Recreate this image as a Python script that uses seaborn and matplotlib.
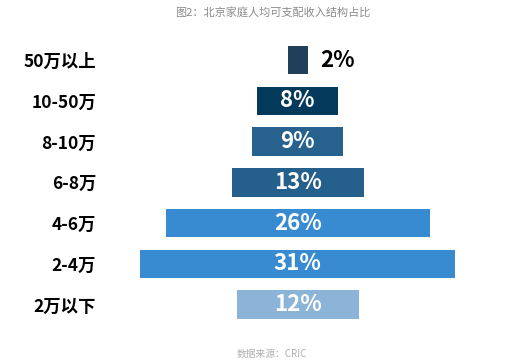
import numpy as np
import pandas as pd
import matplotlib
matplotlib.use("Agg")
import matplotlib.pyplot as plt
import seaborn as sns

# data
categories = ["50万以上", "10-50万", "8-10万", "6-8万", "4-6万", "2-4万", "2万以下"]
shares = [2, 8, 9, 13, 26, 31, 12]
bar_colors = ["#1f3f5a", "#033a5b", "#27628f", "#255f8c", "#388bd1", "#388bd1", "#8cb4d8"]
title = "图2：北京家庭人均可支配收入结构占比"
source = "数据来源：CRIC"

df = pd.DataFrame({"category": categories, "share": shares})

sns.set_style("white")
plt.rcParams["font.family"] = ["Noto Sans CJK SC", "DejaVu Sans"]

fig = plt.figure(figsize=(5.16, 3.64), dpi=100)
ax = fig.add_axes([0.213, 0.107, 0.737, 0.784])

# centered bars: each bar starts at -value/2
sns.barplot(data=df, x="share", y="category", orient="y", width=0.7,
            color=bar_colors[0], saturation=1,
            left=-df["share"].to_numpy() / 2, linewidth=0, ax=ax)
for patch, c in zip(ax.patches, bar_colors):
    patch.set_facecolor(c)
    patch.set_edgecolor(c)

ax.set_xlim(-18.47, 18.93)
ax.set_ylim(6.5, -0.5)

for i, v in enumerate(shares):
    if v < 5:
        ax.annotate(f"{v}%", xy=(v / 2, i), xytext=(9, 0), textcoords="offset points",
                    ha="left", va="center", fontsize=16, fontweight="bold", color="black")
    else:
        ax.text(0, i, f"{v}%", ha="center", va="center", fontsize=16,
                fontweight="bold", color="white")

ax.set_xlabel("")
ax.set_ylabel("")
ax.set_xticks([])
ax.tick_params(axis="y", length=0, pad=10)
for lab in ax.get_yticklabels():
    lab.set_fontweight("bold")
    lab.set_fontsize(12.5)
    lab.set_color("black")
sns.despine(ax=ax, left=True, bottom=True)

fig.text(0.528, 0.967, title, ha="center", va="center", fontsize=8, color="#8a8a8a")
fig.text(0.527, 0.027, source, ha="center", va="center", fontsize=7, color="#b0b0b0")

fig.savefig("out.png", dpi=100)
